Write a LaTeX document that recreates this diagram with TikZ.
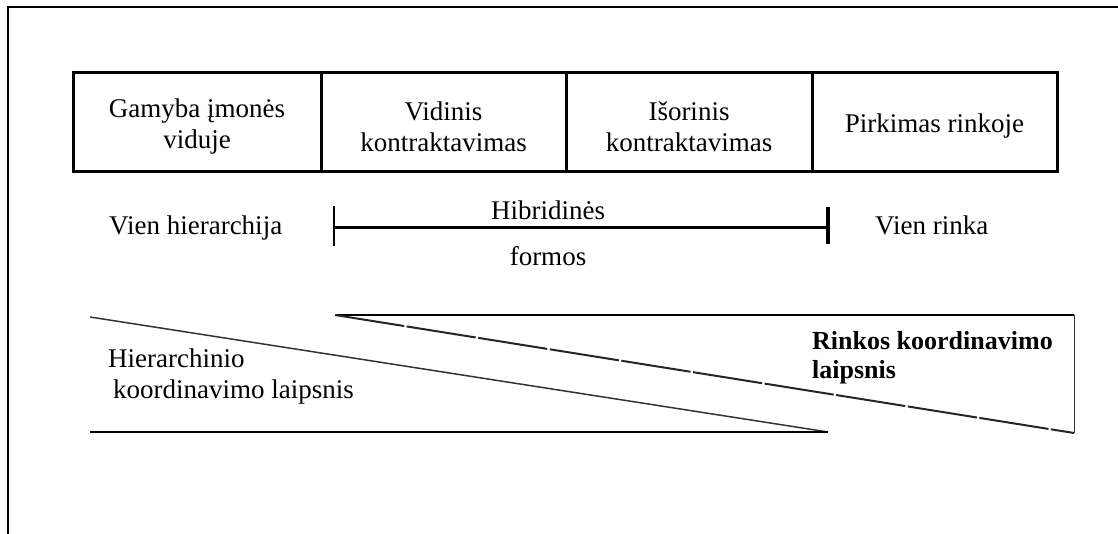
\documentclass[tikz,border=0pt]{standalone}
\usepackage{fontspec}
\setmainfont{Liberation Serif}
\begin{document}
\begin{tikzpicture}[x=1pt,y=-1pt,
  cell/.style={draw,line width=3pt,minimum height=99pt,inner sep=0pt},
  celltext/.style={inner sep=0pt,align=center,font=\fontsize{27}{31}\selectfont},
  lbl/.style={inner sep=0pt,font=\fontsize{27}{31}\selectfont},
  tri/.style={inner sep=0pt,align=left,font=\fontsize{27}{30}\selectfont}]
\useasboundingbox (0,0) rectangle (1118,534);
% frame
\draw[line width=2pt] (8,534) -- (8,7) -- (1118,7);
% top row
\node[cell,minimum width=248pt] (c1) at (197,122.5) {};
\node[cell,minimum width=245pt] (c2) at (443.5,122.5) {};
\node[cell,minimum width=246pt] (c3) at (689,122.5) {};
\node[cell,minimum width=245pt] (c4) at (934.5,122.5) {};
\node[celltext] (t1) at ([yshift=-4pt]c1.center) {Gamyba įmonės\\viduje};
\node[celltext] (t2) at ([yshift=-4pt]c2.center) {Vidinis\\kontraktavimas};
\node[celltext] (t3) at ([yshift=-4pt]c3.center) {Išorinis\\kontraktavimas};
\node[celltext] (t4) at ([yshift=-4pt]c4.center) {Pirkimas rinkoje};
% middle row
\node[lbl,anchor=base west] (vh) at (109,235) {Vien hierarchija};
\node[lbl,anchor=base west] (vr) at (875,235) {Vien rinka};
\coordinate (hl) at (334,228);
\coordinate (hr) at (828,228);
\draw[line width=3pt] (hl) -- (hr);
\draw[line width=2.5pt] ([yshift=-18pt]hl) -- ([yshift=22pt]hl);
\draw[line width=4pt] ([yshift=-16pt]hr) -- ([yshift=21pt]hr);
\node[lbl,anchor=base] (hib) at (548,220) {Hibridinės};
\node[lbl,anchor=base] (for) at (548,266) {formos};
% left triangle
\draw[line width=1.5pt,black!80] (90,317) -- (828,432);
\draw[line width=2.5pt] (90,432) -- (828,432);
% right triangle
\draw[line width=2.5pt] (335,315) -- (1074,315);
\draw[line width=1pt,black!80] (1074,315) -- (1074,433);
\draw[line width=2pt,black!85,dash pattern=on 70pt off 2.5pt] (335,315) -- (1074,433);
\node[tri,anchor=base west] (hk1) at (108,367) {Hierarchinio};
\node[tri,anchor=base west] (hk2) at (113,398) {koordinavimo laipsnis};
\node[tri,anchor=base west,font=\bfseries\fontsize{26}{29}\selectfont] (rk1) at (812,349) {Rinkos koordinavimo};
\node[tri,anchor=base west,font=\bfseries\fontsize{26}{29}\selectfont] (rk2) at (812,378) {laipsnis};
\end{tikzpicture}
\end{document}
